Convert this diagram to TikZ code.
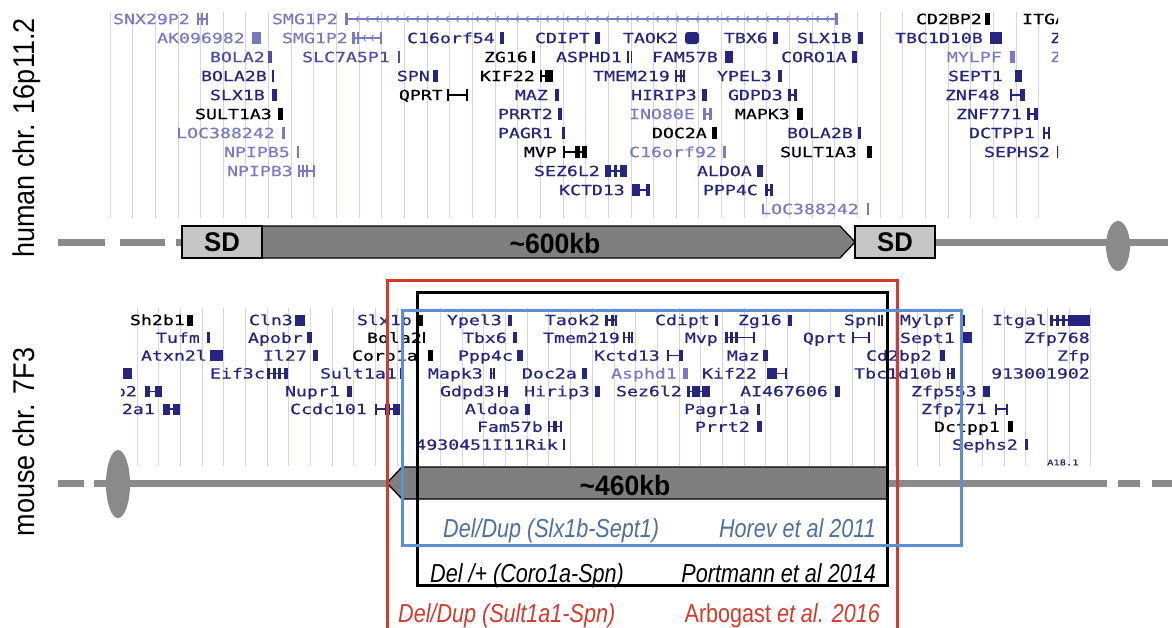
\documentclass[tikz,border=0pt]{standalone}
\usepackage{fontspec}
\usepackage{tikz}
\setmainfont{Liberation Sans}
\newfontfamily\genefont[FakeStretch=1.3,FakeBold=0.6]{DejaVu Sans Mono}
\newfontfamily\sidefont[FakeStretch=0.9]{Liberation Sans}
\newfontfamily\reffont[FakeStretch=0.83]{Liberation Sans}
\newfontfamily\kbfont[FakeStretch=0.95]{Liberation Sans}
\definecolor{glight}{HTML}{7A7AC4}
\definecolor{gmid}{HTML}{4E4EA8}
\definecolor{gnavy}{HTML}{262680}
\definecolor{gridlav}{HTML}{D4D4EE}
\definecolor{trackgray}{HTML}{8A8A8A}
\definecolor{sdgray}{HTML}{C6C6C6}
\definecolor{arrowgray}{HTML}{7F7F7F}
\definecolor{cnvred}{HTML}{D43A2C}
\definecolor{cnvblue}{HTML}{5D8FD4}
\definecolor{refblue}{HTML}{4F6F9F}

\begin{document}
\begin{tikzpicture}[x=1pt, y=-1pt,
    hlab/.style={font=\genefont\fontsize{14}{14}\selectfont, inner sep=0pt, anchor=base east},
    browserline/.style={draw=gridlav, line width=0.9pt},
    track/.style={draw=trackgray, line width=7pt},
    sdbox/.style={draw=black, line width=1.3pt, fill=sdgray, minimum width=80pt,
        minimum height=32pt, inner sep=0pt, font=\kbfont\bfseries\fontsize{27}{27}\selectfont},
    kbarrow/.style={draw=black, line width=1.3pt, fill=arrowgray},
    kblab/.style={font=\kbfont\bfseries\fontsize{28}{28}\selectfont, inner sep=0pt},
    sidelab/.style={font=\sidefont\fontsize{30}{30}\selectfont, rotate=90, anchor=base, inner sep=0pt},
    reflab/.style={font=\reffont\fontsize{26}{26}\selectfont, inner sep=0pt},
    cnvbox/.style={line width=3pt}
]
    \useasboundingbox (0,0) rectangle (1172,627);

    % side labels
    \node[sidelab] (human) at (34,138) {human chr. 16p11.2};
    \node[sidelab] (mouse) at (34,442) {mouse chr. 7F3};

    % browser lines
    \foreach \k in {0,...,41}
        \draw[browserline] ({110+22.65*\k},12) -- ({110+22.65*\k},218);
    \foreach \k in {0,...,44}
        \draw[browserline] ({137+21.68*\k},308) -- ({137+21.68*\k},466);

    % human genes
    \begin{scope}
    \clip (0,0) rectangle (1058,225);
    \foreach \lab/\xe/\rw/\cl [count=\i] in {
        SNX29P2/190/1/glight, SMG1P2/338/1/glight, CD2BP2/982/1/black,
        AK096982/245/2/glight, SMG1P2/348/2/glight, C16orf54/495/2/gnavy,
        CDIPT/590/2/gnavy, TAOK2/678/2/gnavy, TBX6/768/2/gnavy,
        SLX1B/852/2/gnavy, TBC1D10B/983/2/gnavy,
        BOLA2/265/3/gmid, SLC7A5P1/390/3/gmid, ZG16/528/3/black,
        ASPHD1/622/3/gnavy, FAM57B/718/3/gnavy, CORO1A/847/3/gnavy, MYLPF/1002/3/glight,
        BOLA2B/267/4/gnavy, SPN/430/4/gnavy, KIF22/535/4/black,
        TMEM219/670/4/gnavy, YPEL3/772/4/gnavy, SEPT1/1003/4/gnavy,
        SLX1B/265/5/gnavy, QPRT/443/5/black, MAZ/548/5/gnavy,
        HIRIP3/697/5/gnavy, GDPD3/783/5/gnavy, ZNF48/1000/5/gnavy,
        SULT1A3/272/6/black, PRRT2/553/6/gnavy, INO80E/695/6/glight,
        MAPK3/790/6/black, ZNF771/1022/6/gnavy,
        LOC388242/275/7/glight, PAGR1/553/7/gnavy, DOC2A/707/7/black,
        BOLA2B/853/7/gnavy, DCTPP1/1035/7/gnavy,
        NPIPB5/290/8/glight, MVP/557/8/black, C16orf92/717/8/glight,
        SULT1A3/857/8/black, SEPHS2/1050/8/gnavy,
        NPIPB3/293/9/glight, SEZ6L2/600/9/gnavy, ALDOA/752/9/gnavy,
        KCTD13/625/10/gnavy, PPP4C/758/10/gnavy,
        LOC388242/859/11/glight}
        \node[hlab, text=\cl] (hg\i) at (\xe,{19*\rw+5.1}) {\lab};
    \node[hlab, anchor=base west] (itga) at (1022,{19+5.1}) {ITGA};
    \node[hlab, anchor=base west, text=gnavy] (zr2) at (1050,{38+5.1}) {Z};
    \node[hlab, anchor=base west, text=glight] (zr3) at (1050,{57+5.1}) {Z};

    \foreach \xa/\xb/\rw/\cl in {
        197/208/1/glight, 345/838/1/glight, 352/382/2/glight, 447/468/5/black,
        540/553/4/black, 675/685/4/gnavy, 788/797/5/gnavy, 1010/1025/5/gnavy,
        703/712/6/glight, 1027/1038/6/gnavy, 1043/1050/7/gnavy, 563/587/8/black,
        298/315/9/glight, 605/627/9/gnavy, 632/650/10/gnavy, 765/773/10/gnavy}
        \draw[\cl, line width=1.2pt] (\xa,{19*\rw}) -- (\xb,{19*\rw});
    \foreach \xc in {356,366,...,826}
        \draw[glight, line width=0.8pt] ({\xc+2.5},16) -- (\xc,19) -- ({\xc+2.5},22);
    \foreach \xc in {363,371}
        \draw[glight, line width=0.8pt] ({\xc+2.5},35) -- (\xc,38) -- ({\xc+2.5},41);
    \foreach \xa/\xb/\rw/\cl in {
        197/199/1/glight, 201/203/1/glight, 206/208/1/glight, 345/348/1/glight,
        835/838/1/glight, 985/990/1/black,
        252/261/2/glight, 352/355/2/glight, 357/359/2/glight, 380/382/2/glight,
        500/504/2/gnavy, 595/600/2/gnavy, 773/778/2/gnavy, 858/863/2/gnavy, 990/1002/2/gnavy,
        268/272/3/gmid, 398/400/3/gmid, 532/535/3/black, 627/628.5/3/gnavy,
        630.5/632/3/gnavy, 725/733/3/gnavy, 852/857/3/gnavy, 1010/1015/3/glight,
        272/274/4/gnavy, 433/438/4/gnavy, 540/542/4/black, 545/553/4/black,
        675/677/4/gnavy, 680/682/4/gnavy, 683/685/4/gnavy, 778/782/4/gnavy, 1015/1022/4/gnavy,
        272/277/5/gnavy, 447/449/5/black, 466/468/5/black, 555/559/5/gnavy,
        702/707/5/gnavy, 788/791/5/gnavy, 794/797/5/gnavy, 1010/1012/5/gnavy, 1020/1025/5/gnavy,
        278/283/6/black, 558/562/6/gnavy, 703/706/6/glight, 709/712/6/glight,
        797/803/6/black, 1027/1030/6/gnavy, 1034/1038/6/gnavy,
        282/285/7/glight, 562/565/7/gnavy, 712/717/7/black, 858/861/7/gnavy,
        1043/1045/7/gnavy, 1048/1050/7/gnavy,
        297/299/8/glight, 563/565/8/black, 575/580/8/black, 582/587/8/black,
        723/726/8/glight, 867/872/8/black, 1057/1059/8/gnavy,
        298/300/9/glight, 302/304/9/glight, 306/308/9/glight, 313/315/9/glight,
        605/611/9/gnavy, 614/617/9/gnavy, 620/627/9/gnavy, 757/763/9/gnavy,
        632/640/10/gnavy, 646/650/10/gnavy, 765/768/10/gnavy, 770/773/10/gnavy,
        867/869/11/glight}
        \fill[\cl] (\xa,{19*\rw-6}) rectangle (\xb,{19*\rw+6});
    \fill[gnavy, rounded corners=3pt] (685,32) rectangle (699,44);
    \end{scope}

    % mouse genes
    \begin{scope}
    \clip (121,300) rectangle (1090,470);
    \foreach \lab/\xe/\rw/\cl [count=\i] in {
        Sh2b1/185/1/black, Cln3/293/1/gnavy, Slx1b/412/1/gnavy, Ypel3/502/1/gnavy,
        Taok2/600/1/gnavy, Cdipt/710/1/gnavy, Zg16/782/1/gnavy, Spn/877/1/gnavy,
        Mylpf/955/1/gnavy, Itgal/1047/1/gnavy,
        Tufm/200/2/gnavy, Apobr/303/2/gnavy, Bola2/422/2/black, Tbx6/507/2/gnavy,
        Tmem219/620/2/gnavy, Mvp/718/2/gnavy, Qprt/847/2/gnavy, Sept1/955/2/gnavy,
        Zfp768/1090/2/gnavy,
        Atxn2l/207/3/gnavy, Il27/307/3/gnavy, Coro1a/418/3/black, Ppp4c/513/3/gnavy,
        Kctd13/660/3/gnavy, Maz/760/3/gnavy, Cd2bp2/932/3/gnavy, Zfp/1090/3/gnavy,
        Eif3c/265/4/gnavy, Sult1a1/397/4/gnavy, Mapk3/483/4/gnavy, Doc2a/577/4/gnavy,
        Asphd1/677/4/glight, Kif22/757/4/gnavy, Tbc1d10b/942/4/gnavy, 913001902/1090/4/gnavy,
        b2/137/5/gnavy, Nupr1/340/5/gnavy, Gdpd3/495/5/gnavy, Hirip3/590/5/gnavy,
        Sez6l2/682/5/gnavy, AI467606/828/5/gnavy, Zfp553/977/5/gnavy,
        2a1/155/6/gnavy, Ccdc101/367/6/gnavy, Aldoa/520/6/gnavy, Pagr1a/750/6/gnavy,
        Zfp771/987/6/gnavy,
        Fam57b/543/7/gnavy, Prrt2/750/7/gnavy, Dctpp1/1000/7/black,
        4930451I11Rik/558/8/gnavy, Sephs2/1018/8/gnavy}
        \node[hlab, text=\cl] (mg\i) at (\xe,{302.2+17.8*\rw+5.1}) {\lab};
    \node[hlab, anchor=base west, text=gnavy, font=\genefont\fontsize{8}{8}\selectfont]
        (a18) at (1047,{302.2+17.8*9+3}) {A18.1};

    \foreach \xa/\xb/\rw in {
        605/617/1, 1050/1090/1, 623/633/2, 725/755/2, 852/870/2, 667/683/3,
        267/288/4, 490/495/4, 767/787/4, 947/955/4, 145/162/5, 498/508/5,
        687/710/5, 163/180/6, 375/400/6, 995/1008/6, 548/562/7}
        \draw[gnavy, line width=1.2pt] (\xa,{302.2+17.8*\rw}) -- (\xb,{302.2+17.8*\rw});
    \foreach \xa/\xb/\rw/\cl in {
        187/193/1/black, 295/305/1/gnavy, 418/423/1/black, 508/512/1/gnavy,
        605/608/1/gnavy, 611/614/1/gnavy, 615/617/1/gnavy, 715/718/1/gnavy,
        788/792/1/gnavy, 878/880/1/gnavy, 881/883/1/gnavy, 962/965/1/gnavy,
        1050/1053/1/gnavy, 1056/1059/1/gnavy, 1062/1065/1/gnavy, 1068/1090/1/gnavy,
        207/210/2/gnavy, 307/312/2/gnavy, 423/425/2/black, 513/517/2/gnavy,
        623/625/2/gnavy, 628/630/2/gnavy, 631/633/2/gnavy,
        725/728/2/gnavy, 730/733/2/gnavy, 735/738/2/gnavy, 753/755/2/gnavy,
        852/854/2/gnavy, 868/870/2/gnavy, 963/972/2/gnavy,
        210/223/3/gnavy, 313/318/3/gnavy, 428/433/3/black, 517/523/3/gnavy,
        667/669/3/gnavy, 679/683/3/gnavy, 763/768/3/gnavy, 940/945/3/gnavy,
        123/132/4/gnavy, 267/270/4/gnavy, 273/276/4/gnavy, 278/281/4/gnavy,
        284/288/4/gnavy, 400/402/4/gnavy, 490/492/4/gnavy, 493/495/4/gnavy,
        582/587/4/gnavy, 683/688/4/glight, 767/777/4/gnavy, 785/787/4/gnavy,
        947/949/4/gnavy, 951/955/4/gnavy,
        145/150/5/gnavy, 155/162/5/gnavy, 347/352/5/gnavy, 498/500/5/gnavy,
        504/508/5/gnavy, 595/600/5/gnavy, 687/690/5/gnavy, 692/700/5/gnavy,
        702/710/5/gnavy, 835/840/5/gnavy, 983/990/5/gnavy,
        163/170/6/gnavy, 173/180/6/gnavy, 375/377/6/gnavy, 385/390/6/gnavy,
        393/400/6/gnavy, 525/530/6/gnavy, 757/760/6/gnavy, 995/997/6/gnavy, 1006/1008/6/gnavy,
        548/550/7/gnavy, 553/557/7/gnavy, 560/562/7/gnavy, 757/762/7/gnavy, 1008/1013/7/black,
        563/565/8/gnavy, 1025/1028/8/gnavy}
        \fill[\cl] (\xa,{302.2+17.8*\rw-5.5}) rectangle (\xb,{302.2+17.8*\rw+5.5});
    \end{scope}

    % human chromosome
    \draw[track] (58,242) -- (105,242) (120,242) -- (165,242) (176,242) -- (182,242)
        (935,242) -- (1168,242);
    \fill[trackgray] (1118,246) ellipse (12 and 25);
    \draw[kbarrow] (262,226) -- (840,226) -- (855,242) -- (840,258) -- (262,258) -- cycle;
    \node[sdbox] (sdleft) at (222,242) {SD};
    \node[sdbox] (sdright) at (895,242) {SD};
    \node[kblab] (kb600) at (555,243) {\textasciitilde600kb};

    % mouse chromosome
    \draw[track] (58,483) -- (84,483) (94,483) -- (388,483) (888,483) -- (1107,483)
        (1118,483) -- (1140,483) (1152,483) -- (1172,483);
    \fill[trackgray] (118,484) ellipse (12 and 34);
    \draw[kbarrow] (402,467) -- (888,467) -- (888,499) -- (402,499) -- (387,483) -- cycle;
    \node[kblab] (kb460) at (625,485) {\textasciitilde460kb};

    % CNV boxes
    \draw[cnvbox, cnvred] (387,630) -- (387,280) -- (897,280) -- (897,630);
    \draw[cnvbox, black] (417,292) rectangle (887,585);
    \draw[cnvbox, cnvblue] (402,310) rectangle (961,545);

    \node[reflab, text=refblue, anchor=base west] (horevdup) at (443,537)
        {\itshape Del/Dup (Slx1b-Sept1)};
    \node[reflab, text=refblue, anchor=base east] (horev) at (876,537)
        {\itshape Horev et al 2011};
    \node[reflab, text=black, anchor=base west] (portdel) at (430,582)
        {\itshape Del /+ (Coro1a-Spn)};
    \node[reflab, text=black, anchor=base east] (portmann) at (876,582)
        {\itshape Portmann et al 2014};
    \node[reflab, text=cnvred, anchor=base west] (arbodup) at (398,622)
        {\itshape Del/Dup (Sult1a1-Spn)};
    \node[reflab, text=cnvred, anchor=base east] (arbogast) at (880,622)
        {Arbogast \itshape et al. 2016};
\end{tikzpicture}
\end{document}
